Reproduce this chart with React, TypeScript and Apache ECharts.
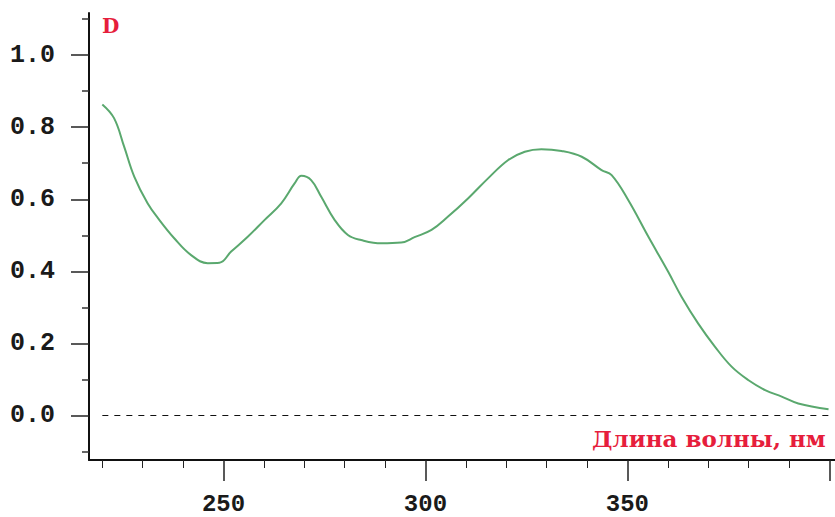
import React, { useEffect, useRef } from "react";
import * as echarts from "echarts";

const wavelengths = [
  220, 222.9, 225.4, 227.9, 231.2, 234.1, 237.8, 241.9, 246.1, 249.0, 251.9,
  256.0, 260.2, 264.3, 267.6, 269.3, 271.7, 274.2, 277.5, 280.8, 284.1, 289.1,
  294.0, 297.3, 301.5, 305.6, 310.6, 315.5, 320.5, 324.6, 328.7, 333.7, 338.7,
  343.6, 346.1, 350.2, 355.2, 360.1, 363.4, 367.5, 371.7, 375.8, 379.9, 384.1,
  388.2, 392.3, 399.8,
];
const absorbance = [
  0.863, 0.825, 0.746, 0.663, 0.589, 0.543, 0.492, 0.446, 0.423, 0.424, 0.455,
  0.496, 0.543, 0.589, 0.644, 0.665, 0.653, 0.607, 0.543, 0.501, 0.487, 0.478,
  0.48, 0.495, 0.515, 0.552, 0.603, 0.658, 0.709, 0.732, 0.739, 0.734, 0.718,
  0.681, 0.667, 0.598, 0.496, 0.399, 0.33, 0.256, 0.191, 0.136, 0.099, 0.071,
  0.053, 0.034, 0.018,
];
const xMajorTicks = [250, 300, 350, 400];
const xLabels = [250, 300, 350];
const xMinorTicks = [220, 230, 240, 260, 270, 280, 290, 310, 320, 330, 340, 360, 370, 380, 390];
const yMajorTicks = [0, 0.2, 0.4, 0.6, 0.8, 1.0];
const yMinorTicks = [-0.1, 0.1, 0.3, 0.5, 0.7, 0.9, 1.1];
const yTitle = "D";
const xTitle = "Длина волны, нм";

const X_MIN = 216.7;
const X_MAX = 401.4;
const Y_MIN = -0.1228;
const Y_MAX = 1.1165;

export default function App() {
  const ref = useRef<HTMLDivElement>(null);
  useEffect(() => {
    if (!ref.current) return;
    const chart = echarts.init(ref.current, null, { renderer: "svg" });
    const labelFont = {
      fontFamily: "Liberation Mono",
      fontWeight: "bold" as const,
      fontSize: 25,
      lineHeight: 18,
      color: "#1a1a1a",
    };
    chart.setOption({
      animation: false,
      backgroundColor: "#ffffff",
      grid: { left: 89, right: 0, top: 13, bottom: 57, containLabel: false },
      xAxis: [
        {
          type: "value",
          min: X_MIN,
          max: X_MAX,
          position: "bottom",
          splitLine: { show: false },
          axisLine: { show: true, onZero: false, lineStyle: { color: "#111", width: 2 } },
          axisTick: {
            show: true,
            customValues: xMajorTicks,
            length: 21,
            lineStyle: { color: "#222", width: 1.5 },
          },
          axisLabel: {
            show: true,
            customValues: xLabels,
            margin: 35,
            formatter: (v: number) => String(v),
            ...labelFont,
            fontSize: 24,
          },
        },
        {
          type: "value",
          min: X_MIN,
          max: X_MAX,
          position: "bottom",
          splitLine: { show: false },
          axisLine: { show: false, onZero: false },
          axisTick: {
            show: true,
            customValues: xMinorTicks,
            length: 8,
            lineStyle: { color: "#222", width: 1 },
          },
          axisLabel: { show: false },
        },
      ],
      yAxis: [
        {
          type: "value",
          min: Y_MIN,
          max: Y_MAX,
          position: "left",
          splitLine: { show: false },
          axisLine: { show: true, onZero: false, lineStyle: { color: "#111", width: 2 } },
          axisTick: {
            show: true,
            customValues: yMajorTicks,
            length: 18,
            lineStyle: { color: "#222", width: 1.5 },
          },
          axisLabel: {
            show: true,
            customValues: yMajorTicks,
            margin: 34,
            formatter: (v: number) => v.toFixed(1),
            ...labelFont,
          },
        },
        {
          type: "value",
          min: Y_MIN,
          max: Y_MAX,
          position: "left",
          splitLine: { show: false },
          axisLine: { show: false, onZero: false },
          axisTick: {
            show: true,
            customValues: yMinorTicks,
            length: 7,
            lineStyle: { color: "#333", width: 1.5 },
          },
          axisLabel: { show: false },
        },
      ],
      series: [
        {
          type: "line",
          xAxisIndex: 0,
          yAxisIndex: 0,
          data: wavelengths.map((w, i) => [w, absorbance[i]]),
          showSymbol: false,
          smooth: 0.4,
          lineStyle: { color: "#5aa86e", width: 2 },
          markLine: {
            silent: true,
            symbol: "none",
            label: { show: false },
            lineStyle: { color: "#111", type: [6, 6], width: 1.2 },
            data: [[{ coord: [220, 0] }, { coord: [400, 0] }]],
          },
        },
      ],
      graphic: [
        {
          type: "text",
          left: 102,
          top: 16,
          style: {
            text: yTitle,
            fill: "#e61e3c",
            font: "bold 20px 'DejaVu Serif'",
          },
        },
        {
          type: "text",
          left: 592,
          top: 427,
          style: {
            text: xTitle,
            fill: "#e61e3c",
            font: "bold 23px 'DejaVu Serif'",
          },
        },
      ],
    });
    return () => chart.dispose();
  }, []);
  return (
    <div
      ref={ref}
      style={{ position: "fixed", left: 0, top: 0, width: 835, height: 517, background: "#fff" }}
    />
  );
}
